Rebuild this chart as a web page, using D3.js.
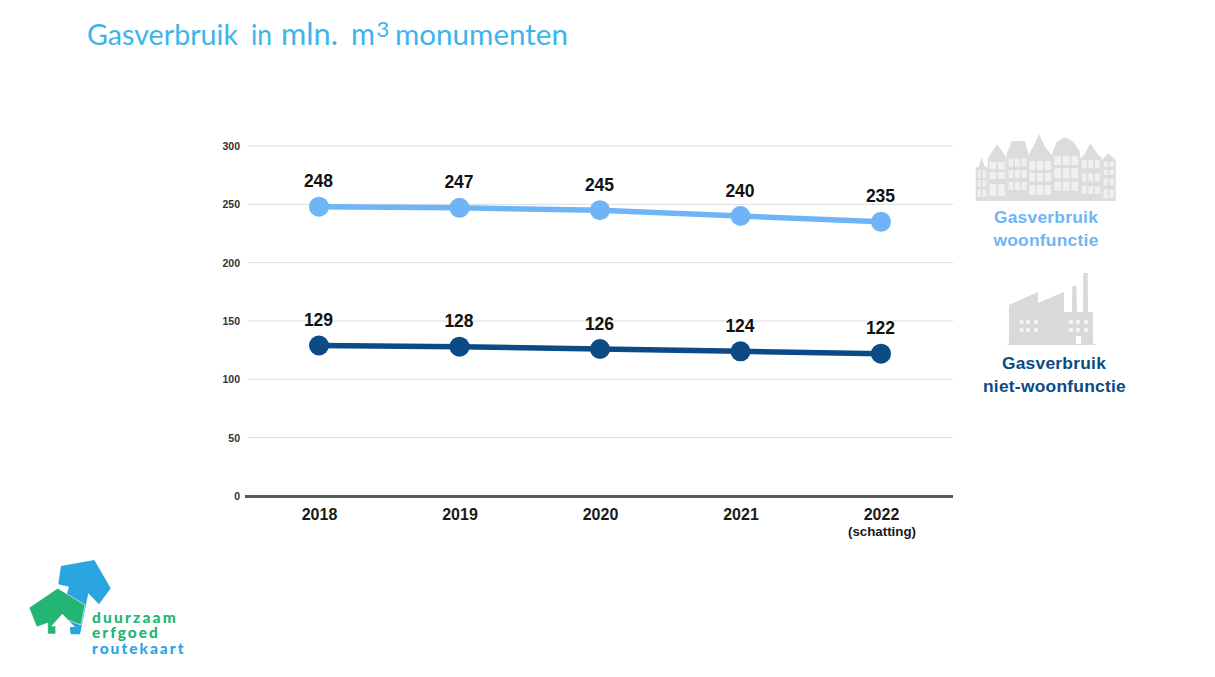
<!DOCTYPE html>
<html><head><meta charset="utf-8">
<script src="https://cdn.jsdelivr.net/npm/d3@7"></script>
<style>html,body{margin:0;background:#fff}svg{display:block}text{font-family:"Liberation Sans",Arial,sans-serif}</style>
</head><body><svg id="c" width="1215" height="677"></svg>
<script>
const years = ["2018","2019","2020","2021","2022"];
const woonfunctie = [248,247,245,240,235];
const nietWoonfunctie = [129,128,126,124,122];
const yTicks = [0,50,100,150,200,250,300];
const colorWoon = "#6fb5f5", colorNiet = "#0b4a85";
const svg = d3.select("#c");

// title
const titleParts = [["Gasverbruik",87,28,151],["in",251,28,21],["mln.",281,30,57],["m",351,30,24],["monumenten",395,28,173]];
const title = svg.append("g").attr("fill","#3db4ea");
titleParts.forEach(p=>title.append("text").attr("x",p[1]).attr("y",45).attr("font-size",p[2])
  .attr("textLength",p[3]).attr("lengthAdjust","spacingAndGlyphs").style("font-family","Lato,sans-serif").text(p[0]));
title.append("text").attr("x",376.5).attr("y",37).attr("font-size",22).style("font-family","Lato,sans-serif").text("3");

// scales
const x = d3.scalePoint().domain(years).range([319,881]);
const y = d3.scaleLinear().domain([0,300]).range([496,146]);

// gridlines and axes
const grid = svg.append("g");
grid.selectAll("line").data(yTicks.filter(d=>d>0)).join("line")
  .attr("x1",248).attr("x2",953).attr("y1",d=>y(d)).attr("y2",d=>y(d))
  .attr("stroke","#dcdcdc").attr("stroke-width",1);
const yAxis = svg.append("g").attr("transform","translate(240,0)")
  .call(d3.axisLeft(y).tickValues(yTicks).tickSize(0).tickPadding(0));
yAxis.select(".domain").remove();
yAxis.selectAll("text").attr("font-size",10.5).attr("font-weight","bold").attr("fill","#333")
  .style("font-family",'"Liberation Sans",Arial,sans-serif');
svg.append("line").attr("x1",245).attr("x2",953).attr("y1",y(0)+0.5).attr("y2",y(0)+0.5)
  .attr("stroke","#595959").attr("stroke-width",2.8);
const xAxis = svg.append("g").attr("transform",`translate(0,${y(0)})`)
  .call(d3.axisBottom(x).tickSize(0).tickPadding(12.5));
xAxis.select(".domain").remove();
xAxis.selectAll("text").attr("font-size",16).attr("font-weight","bold").attr("fill","#1a1a1a")
  .style("font-family",'"Liberation Sans",Arial,sans-serif');
svg.append("text").attr("x",882).attr("y",536).attr("text-anchor","middle")
  .attr("font-size",13.3).attr("font-weight","bold").attr("fill","#1a1a1a").text("(schatting)");

// series
const line = d3.line().x((d,i)=>x(years[i])).y(d=>y(d));
[[woonfunctie,colorWoon],[nietWoonfunctie,colorNiet]].forEach(([vals,col])=>{
  svg.append("path").attr("d",line(vals)).attr("fill","none").attr("stroke",col).attr("stroke-width",5.5);
  svg.append("g").selectAll("circle").data(vals).join("circle")
    .attr("cx",(d,i)=>x(years[i])).attr("cy",d=>y(d)).attr("r",10).attr("fill",col);
  svg.append("g").selectAll("text").data(vals).join("text")
    .attr("x",(d,i)=>x(years[i])-0.5).attr("y",d=>y(d)-19.5).attr("text-anchor","middle")
    .attr("font-size",17.5).attr("font-weight","bold").attr("fill","#111").text(d=>d);
});

// houses icon (decorative): outline, window columns, window rows
const houses = [
 ["M975.7 201V168L979 166L981.7 157L984.5 166L987.7 168V201Z",2,[[170,8],[180,7],[189,8]]],
 ["M987.7 201V158L997.3 144.3L1006.7 158V201Z",2,[[162,7.5],[172,7],[184,12]]],
 ["M1006.7 201V154L1011.7 141H1025L1028.3 154V201Z",3,[[158.5,8],[170,8],[182,8]]],
 ["M1027.3 201V156.7L1033.3 146.7L1039 134L1045 146.7L1053 156.7V201Z",3,[[161,9],[172.7,9],[185,10]]],
 ["M1052.3 201V152.7L1056.7 141.7L1065 137.3L1073.3 141.7L1080 151.7V201Z",3,[[156,9],[168.3,10],[181.7,9]]],
 ["M1080 201V158L1084.3 155L1090 143.3L1098.3 155L1101.7 158V201Z",3,[[160,8.3],[173.3,8.3],[186,8]]],
 ["M1101.7 201V160L1108.3 153.3L1115.7 160V201Z",2,[[161.7,5],[170,5],[178.3,7],[189.3,9]]]
];
const hg = svg.append("g");
houses.forEach(([d,cols,rows])=>{
  const path = hg.append("path").attr("fill","#dcdcdc").attr("d",d);
  const b = path.node().getBBox(), cw = (b.width-2)/cols;
  rows.forEach(([ry,rh])=>{ for(let c=0;c<cols;c++)
    hg.append("rect").attr("x",b.x+1+c*cw+0.9).attr("y",ry).attr("width",cw-1.8).attr("height",rh)
      .attr("fill","#f0f0f0"); });
});

// factory icon (decorative)
const fg = svg.append("g");
fg.append("path").attr("fill","#d9d9d9").attr("d","M1009 305L1038 292V303L1064 292V312L1072 312L1072.3 286H1076.3L1077 312H1083L1083.3 273H1087.7L1088 312H1093V343L1096 345H1007L1009 343Z");
for(const fx of [1019.5,1026,1034,1069,1076,1084]) for(const fy of [320,328])
  fg.append("rect").attr("x",fx).attr("y",fy).attr("width",4).attr("height",4).attr("fill","#f4f4f4");
fg.append("rect").attr("x",1076).attr("y",336).attr("width",5).attr("height",8).attr("fill","#fff");

// side legend
const side = [["Gasverbruik",1046,223,colorWoon],["woonfunctie",1046,246,colorWoon],["Gasverbruik",1054,369,colorNiet],["niet-woonfunctie",1054.5,392,colorNiet]];
svg.append("g").selectAll("text").data(side).join("text")
  .attr("x",d=>d[1]).attr("y",d=>d[2]).attr("text-anchor","middle").attr("font-size",17.4)
  .attr("letter-spacing",0.25).attr("font-weight","bold").attr("fill",d=>d[3]).text(d=>d[0]);

// logo (decorative)
const logo = svg.append("g");
logo.append("path").attr("fill","#2aa5e2").attr("d","M61 566L94.3 560L110.7 588.3L99 604.3L88.3 593.3L80 634.3H70.7L65 600L69 586.7L58.3 584.3Z");
logo.append("path").attr("fill","#fff").attr("d","M62.3 614.3L75 627H70V634.3H55.7V627H51.7Z");
logo.append("path").attr("fill","#22b573").attr("stroke","#fff").attr("stroke-width",0.6)
  .attr("d","M29 607.7L57.7 588.3L85 605L81 625L68 620L62.3 614.3L51.7 626H55.7V634H47.7V623L36.7 627Z");
const logoText = [["duurzaam",92,622.5,"#22b573",2.2],["erfgoed",92,638,"#22b573",2.0],["routekaart",92,654,"#2aa5e2",2.0]];
logoText.forEach(t=>logo.append("text").attr("x",t[1]).attr("y",t[2]).attr("fill",t[3])
  .attr("font-size",15.5).attr("font-weight",900).attr("letter-spacing",t[4]).style("font-family","Lato,sans-serif").text(t[0]));
</script></body></html>
